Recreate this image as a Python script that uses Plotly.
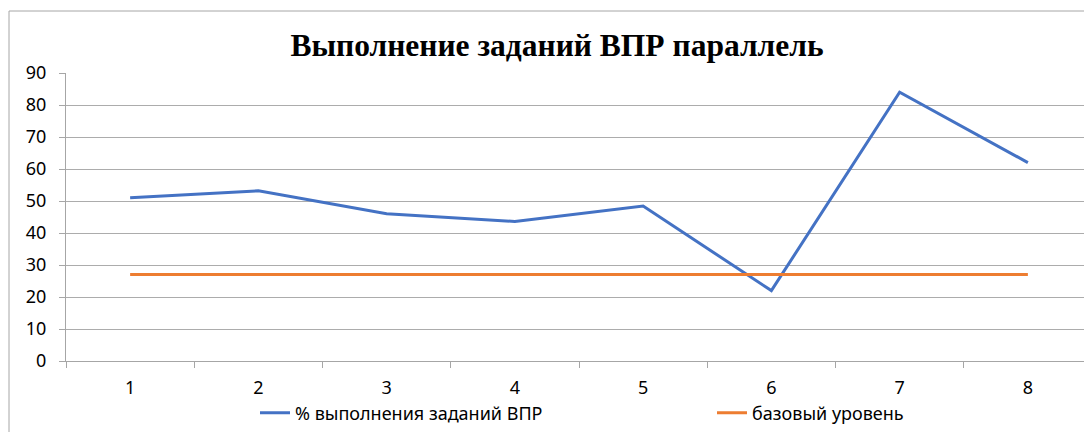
import plotly.graph_objects as go

categories = ["1", "2", "3", "4", "5", "6", "7", "8"]
pct_done = [51, 53.2, 46, 43.6, 48.4, 22, 84, 62]
base_level = [27, 27, 27, 27, 27, 27, 27, 27]
title_text = "Выполнение заданий ВПР параллель"
series_names = ["% выполнения заданий ВПР", "базовый уровень"]

# page body has an 8px default margin; figure coords are page coords minus 8
W, H = 1092, 432
L, R, T, B = 58, 8, 65, 79
pw, ph = W - L - R, H - T - B

fig = go.Figure()
fig.add_trace(go.Scatter(x=categories, y=pct_done, mode="lines", name=series_names[0],
                         line=dict(color="#4472C4", width=3)))
fig.add_trace(go.Scatter(x=categories, y=base_level, mode="lines", name=series_names[1],
                         line=dict(color="#ED7D31", width=3)))

fig.update_layout(
    width=W, height=H,
    margin=dict(l=L, r=R, t=T, b=B, autoexpand=False),
    paper_bgcolor="white", plot_bgcolor="white",
    title=dict(text="<b>" + title_text + "</b>", x=549 / W, xanchor="center",
               y=1 - 37 / H, yanchor="middle",
               font=dict(family="Liberation Serif", size=31.5, color="black")),
    font=dict(family="Noto Sans", size=18, color="black"),
    legend=dict(orientation="h", x=(247 - L) / pw, xanchor="left", y=-(405 - (H - B)) / ph,
                yanchor="middle", font=dict(size=18, family="Noto Sans"),
                entrywidth=412, entrywidthmode="pixels", itemwidth=30,
                bgcolor="rgba(0,0,0,0)"),
    showlegend=True,
)
fig.update_xaxes(type="category", tickson="boundaries", ticks="outside", ticklen=6,
                 tickcolor="#a6a6a6", showline=True, linecolor="#a6a6a6", linewidth=1,
                 showgrid=False, range=[-0.5, 7.5], tickfont=dict(size=18),
                 ticklabelstandoff=10)
fig.update_yaxes(range=[0, 90], dtick=10, ticks="outside", ticklen=6, tickcolor="#a6a6a6",
                 showline=True, linecolor="#a6a6a6", linewidth=1, showgrid=True,
                 gridcolor="#acacac", gridwidth=1, zeroline=False, tickfont=dict(size=18),
                 ticklabelstandoff=9)

# chart border (Excel chart area frame)
fig.add_shape(type="rect", xref="paper", yref="paper",
              x0=(1 - L) / pw, x1=(W + 20 - L) / pw,
              y0=-(H + 20 - T - ph) / ph, y1=(H - B - 3) / ph,
              line=dict(color="#a6a6a6", width=1), fillcolor="rgba(0,0,0,0)", layer="below")

fig.write_html("out.html")
